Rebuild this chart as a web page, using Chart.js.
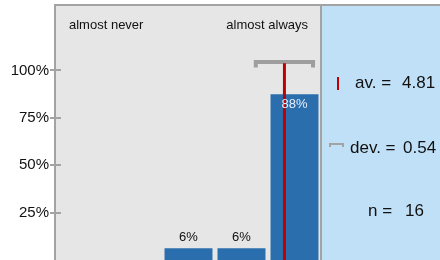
<!DOCTYPE html>
<html>
<head>
<meta charset="utf-8">
<script src="https://cdn.jsdelivr.net/npm/chart.js@4/dist/chart.umd.min.js"></script>
<style>
  html, body { margin: 0; padding: 0; background: #fff; }
  canvas { display: block; }
</style>
</head>
<body>
<canvas id="chartCanvas" width="440" height="260"></canvas>
<script>
const categories = ["1", "2", "3", "4", "5"];
const shares = [0, 0, 6.25, 6.25, 87.5];
const yTicks = [25, 50, 75, 100];
const scaleEnds = ["almost never", "almost always"];
const average = 4.81;
const deviation = 0.54;
const count = 16;

const FONT = "'Liberation Sans', Arial, sans-serif";
const GRAY = "#a3a3a3";

const frame = {
  id: "frame",
  beforeDraw(c) {
    const ctx = c.ctx;
    const a = c.chartArea;
    ctx.save();
    ctx.fillStyle = "#e6e6e6";
    ctx.fillRect(a.left, a.top, a.right - a.left, a.bottom - a.top);
    ctx.fillStyle = "#bfe0f7";
    ctx.fillRect(a.right + 1, a.top, c.width - a.right, a.bottom - a.top);
    ctx.restore();
  },
  afterDraw(c) {
    const ctx = c.ctx;
    const a = c.chartArea;
    const y = c.scales.y;
    ctx.save();
    ctx.strokeStyle = GRAY;
    ctx.lineWidth = 2;
    ctx.beginPath();
    ctx.moveTo(a.left - 1, a.top - 1);
    ctx.lineTo(c.width, a.top - 1);
    ctx.moveTo(a.left - 1, a.top - 2);
    ctx.lineTo(a.left - 1, a.bottom);
    ctx.moveTo(a.right, a.top - 2);
    ctx.lineTo(a.right, a.bottom);
    yTicks.forEach(v => {
      const py = Math.round(y.getPixelForValue(v));
      ctx.moveTo(a.left - 6, py);
      ctx.lineTo(a.left + 5, py);
    });
    ctx.stroke();

    // scale end captions
    ctx.fillStyle = "#111";
    ctx.font = "13px " + FONT;
    ctx.textBaseline = "alphabetic";
    ctx.textAlign = "left";
    ctx.fillText(scaleEnds[0], a.left + 13, 29);
    ctx.textAlign = "right";
    ctx.fillText(scaleEnds[1], a.right - 13, 29);

    // side panel
    ctx.fillStyle = "#c00000";
    ctx.fillRect(337, 77, 2, 13);
    ctx.strokeStyle = GRAY;
    ctx.lineWidth = 2;
    ctx.beginPath();
    ctx.moveTo(330, 147);
    ctx.lineTo(330, 144);
    ctx.lineTo(343, 144);
    ctx.lineTo(343, 147);
    ctx.stroke();

    ctx.fillStyle = "#111";
    ctx.font = "17px " + FONT;
    ctx.textAlign = "left";
    ctx.fillText("av. =", 355, 88);
    ctx.fillText(average.toFixed(2), 402, 88);
    ctx.fillText("dev. =", 350, 153);
    ctx.fillText(deviation.toFixed(2), 403, 153);
    ctx.fillText("n =", 368, 216);
    ctx.fillText(String(count), 405, 216);
    ctx.restore();
  }
};

const barLabels = {
  id: "barLabels",
  afterDatasetsDraw(c) {
    const ctx = c.ctx;
    const meta = c.getDatasetMeta(0);
    ctx.save();
    ctx.font = "13px " + FONT;
    ctx.textAlign = "center";
    ctx.textBaseline = "alphabetic";
    meta.data.forEach((bar, i) => {
      const v = shares[i];
      if (!v) return;
      const txt = Math.round(v) + "%";
      if (v > 50) {
        ctx.fillStyle = "#e8eef7";
        ctx.fillText(txt, bar.x, bar.y + 14);
      } else {
        ctx.fillStyle = "#111";
        ctx.fillText(txt, bar.x, bar.y - 7);
      }
    });
    ctx.restore();
  }
};

new Chart(chartCanvas, {
  data: {
    labels: categories,
    datasets: [
      {
        type: "bar",
        data: shares,
        backgroundColor: "#2b6ead",
        borderWidth: 0,
        grouped: false,
        categoryPercentage: 1,
        barPercentage: 0.905,
        xAxisID: "x",
        order: 3
      },
      {
        type: "line",
        data: [
          { x: average - deviation, y: 101.5 },
          { x: average - deviation, y: 104.5 },
          { x: average + deviation, y: 104.5 },
          { x: average + deviation, y: 101.5 }
        ],
        borderColor: "#9e9e9e",
        borderWidth: 4,
        borderJoinStyle: "miter",
        borderCapStyle: "butt",
        pointRadius: 0,
        tension: 0,
        xAxisID: "x2",
        order: 2
      },
      {
        type: "line",
        data: [
          { x: average, y: 0 },
          { x: average, y: 103.8 }
        ],
        borderColor: "#c00000",
        borderWidth: 3,
        borderCapStyle: "butt",
        pointRadius: 0,
        xAxisID: "x2",
        order: 1
      }
    ]
  },
  options: {
    responsive: false,
    animation: false,
    layout: { padding: { left: 0, top: 6, right: 119, bottom: 0 } },
    plugins: {
      legend: { display: false },
      tooltip: { enabled: false }
    },
    scales: {
      x: { type: "category", display: false, offset: true },
      x2: { type: "linear", display: false, min: 0.5, max: 5.5 },
      y: {
        min: 0,
        max: 134,
        afterFit(scale) {
          scale.width = 56;
          scale.paddingTop = 0;
          scale.paddingBottom = 0;
        },
        afterBuildTicks(scale) { scale.ticks = yTicks.map(v => ({ value: v })); },
        grid: { display: false, drawTicks: false },
        border: { display: false },
        ticks: {
          padding: 7,
          color: "#111",
          font: { family: FONT, size: 15 },
          callback: v => v + "%"
        }
      }
    }
  },
  plugins: [frame, barLabels]
});
</script>
</body>
</html>
